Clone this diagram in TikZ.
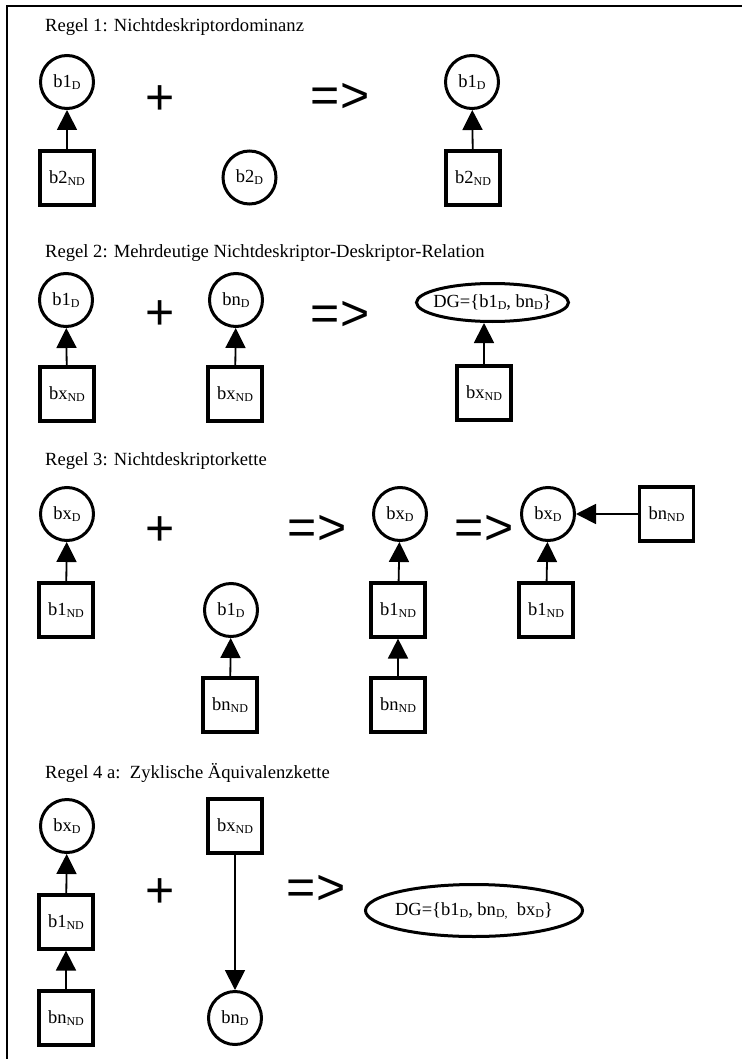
\documentclass[tikz,border=0pt]{standalone}
\usepackage{fontspec}
\setmainfont{Liberation Serif}
\newfontfamily\opfont{Liberation Sans}
\usetikzlibrary{shapes.geometric,arrows.meta}
\newcommand{\sbx}[1]{\raisebox{-2pt}{\fontsize{12}{12}\selectfont #1}}
\begin{document}
\begin{tikzpicture}[x=1pt,y=-1pt,
  ttl/.style={font=\fontsize{18.6}{22}\selectfont, anchor=base west, inner sep=0},
  dnode/.style={ellipse, draw, line width=3pt, minimum width=53pt, minimum height=53pt, inner sep=0, font=\fontsize{18.5}{20}\selectfont},
  ndnode/.style={rectangle, draw, line width=3.2pt, minimum width=54pt, minimum height=54pt, inner sep=0, font=\fontsize{18.5}{20}\selectfont},
  dgnode/.style={ellipse, draw, line width=3pt, inner sep=0},
  dgtext/.style={font=\fontsize{18.5}{20}\selectfont, inner sep=0},
  arr/.style={line width=1.8pt, -{Triangle[length=20pt,width=20pt]}},
  op/.style={font=\opfont\fontsize{50}{50}\selectfont, inner sep=0}
]
\useasboundingbox (0,0) rectangle (742,1059);
% frame
\draw[line width=2.5pt] (7,1059) -- (7,6) -- (742,6);

% ---------- Regel 1
\node[ttl] (t1) at (45,32) {Regel 1: Nichtdeskriptordominanz};
\node[dnode] (c1a) at (67,82) {b1\sbx{D}};
\node[ndnode] (s1a) at (67,178) {b2\sbx{ND}};
\node[op] (p1) at (160,100) {+};
\node[dnode] (c1b) at (249.5,177.5) {b2\sbx{D}};
\node[op] (i1) at (340,98) {=>};
\node[dnode] (c1c) at (472,82) {b1\sbx{D}};
\node[ndnode] (s1c) at (473,178) {b2\sbx{ND}};
\draw[arr] (s1a) -- (c1a);
\draw[arr] (s1c) -- (c1c);

% ---------- Regel 2
\node[ttl] (t2) at (45,257) {Regel 2: Mehrdeutige Nichtdeskriptor-Deskriptor-Relation};
\node[dnode] (c2a) at (66,300) {b1\sbx{D}};
\node[ndnode] (s2a) at (67,394) {bx\sbx{ND}};
\node[op] (p2) at (160,315) {+};
\node[dnode] (c2b) at (236,300) {bn\sbx{D}};
\node[ndnode] (s2b) at (235,394) {bx\sbx{ND}};
\node[op] (i2) at (340,316) {=>};
\node[dgnode, minimum width=152pt, minimum height=38pt,
      label={[dgtext]center:DG=\{b1\sbx{D}, bn\sbx{D}\}}] (e2) at (492.5,302.5) {};
\node[ndnode] (s2c) at (484,393) {bx\sbx{ND}};
\draw[arr] (s2a) -- (c2a);
\draw[arr] (s2b) -- (c2b);
\draw[arr] (s2c) -- (s2c |- e2.south);

% ---------- Regel 3
\node[ttl] (t3) at (45,465) {Regel 3: Nichtdeskriptorkette};
\node[dnode] (c3a) at (67,514) {bx\sbx{D}};
\node[ndnode] (s3a) at (66,610) {b1\sbx{ND}};
\node[op] (p3) at (160,531) {+};
\node[dnode] (c3b) at (231,610) {b1\sbx{D}};
\node[ndnode] (s3b) at (230,705) {bn\sbx{ND}};
\node[op] (i3a) at (317,530) {=>};
\node[dnode] (c3c) at (400,514) {bx\sbx{D}};
\node[ndnode] (s3c) at (398,610) {b1\sbx{ND}};
\node[ndnode] (s3d) at (398,705) {bn\sbx{ND}};
\node[op] (i3b) at (484,530) {=>};
\node[dnode] (c3d) at (548,514) {bx\sbx{D}};
\node[ndnode] (s3e) at (546,610) {b1\sbx{ND}};
\node[ndnode] (s3f) at (666.5,514) {bn\sbx{ND}};
\draw[arr] (s3a) -- (c3a);
\draw[arr] (s3b) -- (c3b);
\draw[arr] (s3c) -- (c3c);
\draw[arr] (s3d) -- (s3c);
\draw[arr] (s3e) -- (c3d);
\draw[arr] (s3f) -- (c3d);

% ---------- Regel 4 a
\node[ttl] (t4) at (45,778) {Regel 4 a:\ \ Zyklische Äquivalenzkette};
\node[dnode] (c4a) at (67,826) {bx\sbx{D}};
\node[ndnode] (s4a) at (66,922) {b1\sbx{ND}};
\node[ndnode] (s4b) at (66,1018) {bn\sbx{ND}};
\node[op] (p4) at (160,893) {+};
\node[ndnode] (s4c) at (235,826) {bx\sbx{ND}};
\node[dnode] (c4b) at (235,1018) {bn\sbx{D}};
\node[op] (i4) at (316,890) {=>};
\node[dgnode, minimum width=217pt, minimum height=52pt,
      label={[dgtext]center:DG=\{b1\sbx{D}, bn\sbx{D,}\ \ bx\sbx{D}\}}] (e4) at (474,910.5) {};
\draw[arr] (s4a) -- (c4a);
\draw[arr] (s4b) -- (s4a);
\draw[arr] (s4c) -- (c4b);
\end{tikzpicture}
\end{document}
